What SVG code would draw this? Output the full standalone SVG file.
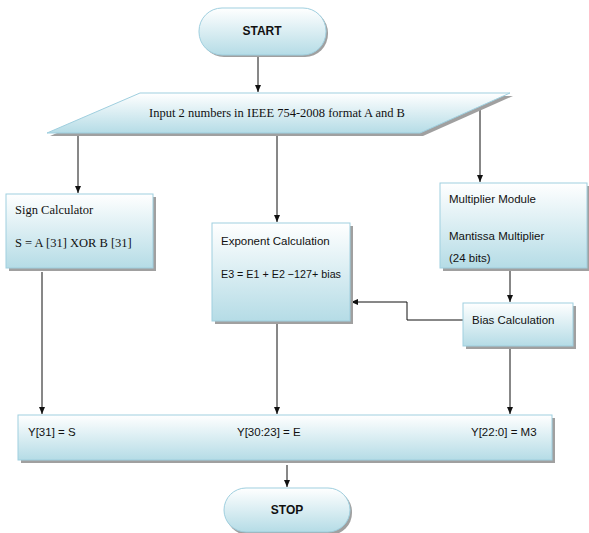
<svg xmlns="http://www.w3.org/2000/svg" width="589" height="533" viewBox="0 0 589 533">
<style>
.box{fill:url(#g);stroke:#9fcfdf;stroke-width:1}
.sh{fill:#a0a0a0}
.serif{font-family:"Liberation Serif","Times New Roman",serif;font-size:12.5px;fill:#111}
.sans{font-family:"Liberation Sans",Arial,sans-serif;font-size:11.5px;fill:#111}
.bold{font-family:"Liberation Sans",Arial,sans-serif;font-size:12px;font-weight:bold;fill:#111;text-anchor:middle}
.ln{stroke:#111;stroke-width:1;fill:none}
</style>
<defs>
<linearGradient id="g" x1="0" y1="0" x2="0" y2="1">
<stop offset="0" stop-color="#ffffff"/>
<stop offset="1" stop-color="#b5dce6"/>
</linearGradient>
<marker id="a" markerWidth="8" markerHeight="8" refX="7" refY="4" orient="auto" markerUnits="userSpaceOnUse">
<path d="M0,1 L7,4 L0,7 Z" fill="#111"/>
</marker>
</defs>
<rect width="589" height="533" fill="#fff"/>
<g id="connectors">
<path class="ln" d="M258,55 V92" marker-end="url(#a)"/>
<path class="ln" d="M78,133 V193" marker-end="url(#a)"/>
<path class="ln" d="M277,133 V222" marker-end="url(#a)"/>
<path class="ln" d="M480,106 V182" marker-end="url(#a)"/>
<path class="ln" d="M510,270 V302" marker-end="url(#a)"/>
<path class="ln" d="M463,320 H407 V302 H351" marker-end="url(#a)"/>
<path class="ln" d="M42,272 V414" marker-end="url(#a)"/>
<path class="ln" d="M277,322 V414" marker-end="url(#a)"/>
<path class="ln" d="M510,348 V414" marker-end="url(#a)"/>
<path class="ln" d="M287,465 V487" marker-end="url(#a)"/>
</g>
<g id="start">
<rect class="sh" x="201" y="10" width="127" height="47" rx="23"/>
<rect class="box" x="199" y="8" width="127" height="47" rx="23"/>
<text class="bold" x="262" y="35">START</text>
</g>
<g id="input">
<polygon class="sh" points="143,96 513,96 423,136 50,136"/>
<polygon class="box" points="140,93 510,93 420,133 47,133"/>
<text class="serif" x="277" y="117" text-anchor="middle" font-size="12">Input 2 numbers in IEEE 754-2008 format A and B</text>
</g>
<g id="sign">
<rect class="sh" x="9" y="197" width="147" height="74"/>
<rect class="box" x="6" y="194" width="147" height="74"/>
<text class="serif" x="15" y="214">Sign Calculator</text>
<text class="serif" x="15" y="247">S = A [31] XOR B [31]</text>
</g>
<g id="exponent">
<rect class="sh" x="215" y="226" width="138" height="98"/>
<rect class="box" x="212" y="223" width="138" height="98"/>
<text class="sans" x="221" y="245">Exponent Calculation</text>
<text class="sans" x="221" y="278" textLength="120" lengthAdjust="spacingAndGlyphs">E3 = E1 + E2 −127+ bias</text>
</g>
<g id="multiplier">
<rect class="sh" x="443" y="186" width="147" height="85"/>
<rect class="box" x="440" y="183" width="147" height="85"/>
<text class="sans" x="449" y="203">Multiplier Module</text>
<text class="sans" x="449" y="240">Mantissa Multiplier</text>
<text class="sans" x="449" y="262">(24 bits)</text>
</g>
<g id="bias">
<rect class="sh" x="466" y="306" width="110" height="43"/>
<rect class="box" x="463" y="303" width="110" height="43"/>
<text class="sans" x="472" y="324">Bias Calculation</text>
</g>
<g id="output">
<rect class="sh" x="21" y="418" width="534" height="45"/>
<rect class="box" x="18" y="415" width="534" height="45"/>
<text class="sans" x="28" y="436">Y[31] = S</text>
<text class="sans" x="237" y="436">Y[30:23] = E</text>
<text class="sans" x="471" y="436">Y[22:0] = M3</text>
</g>
<g id="stop">
<rect class="sh" x="226" y="490" width="126" height="45" rx="22"/>
<rect class="box" x="224" y="488" width="126" height="44" rx="22"/>
<text class="bold" x="287" y="514">STOP</text>
</g>
</svg>
